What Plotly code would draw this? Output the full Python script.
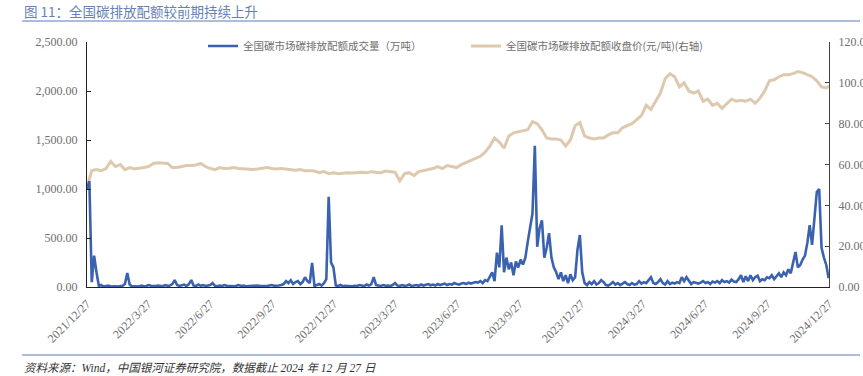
import pandas as pd
import plotly.graph_objects as go

# ---- data ----
price_dates = list(pd.date_range("2021-12-27", periods=157, freq="7D")) + [pd.Timestamp("2024-12-27")]
price_close = [
    49, 57, 57.5, 57, 58, 61.5, 59, 60, 57.5, 58.5,
    57.8, 58, 58.5, 59, 60.5, 60.8, 60.8, 60.5, 58.5, 58.5,
    59, 59.5, 59.5, 59.8, 60.5, 59, 58, 57.5, 58.5, 58,
    58.2, 58.5, 58, 57.8, 57.5, 57.5, 57.8, 58.2, 58.5, 58,
    57.8, 58, 57.7, 57.5, 57.2, 57.5, 57, 57, 56.8, 56,
    56.5, 55.5, 56, 55.5, 55.8, 56, 55.8, 56, 56.2, 56,
    56.5, 56.2, 56, 56.8, 56.5, 56.2, 52, 55.5, 56, 54.5,
    56.5, 57, 57.5, 58, 59, 58, 59.5, 59, 58.5, 60,
    61, 62, 63, 64, 66, 69, 73, 71, 68, 74,
    75.5, 76, 76.5, 77, 81, 80, 77, 73, 72.5, 72.5,
    72, 69, 72, 79, 80.5, 74, 73, 72.5, 73, 73,
    74.5, 75.5, 75.5, 78, 79, 80, 82, 84, 89, 87,
    91, 95, 102, 104.5, 103, 98, 100, 96, 95, 96,
    91, 92, 89, 90, 87.5, 90, 92, 91, 91.5, 91,
    92, 90, 92.5, 96, 101, 101.5, 103, 104, 104, 104.5,
    105.5, 105, 104, 103, 101, 98, 97.5, 98.5,
]

vol_dates = pd.date_range("2021-12-27", periods=314, freq="84h")
vol_values = [
    1000, 1080, 50, 320, 150, 10, 20, 5, 10, 15,
    5, 10, 8, 5, 10, 12, 30, 143, 25, 5,
    8, 10, 5, 15, 8, 10, 20, 12, 8, 10,
    15, 10, 8, 20, 12, 15, 30, 70, 20, 10,
    15, 25, 10, 30, 70, 15, 10, 25, 12, 20,
    10, 15, 20, 40, 12, 8, 15, 10, 20, 12,
    10, 15, 8, 12, 20, 10, 15, 8, 10, 12,
    8, 12, 15, 10, 8, 12, 10, 15, 20, 12,
    10, 15, 20, 30, 60, 40, 70, 30, 50, 60,
    30, 50, 100, 60, 40, 245, 10, 20, 30, 15,
    40, 80, 920, 250, 200, 15, 10, 20, 8, 12,
    10, 15, 8, 12, 10, 20, 15, 10, 25, 15,
    30, 100, 20, 15, 10, 20, 12, 15, 10, 20,
    40, 15, 10, 20, 12, 15, 25, 10, 15, 20,
    12, 25, 15, 20, 30, 18, 25, 15, 30, 20,
    25, 35, 20, 30, 25, 40, 30, 25, 35, 40,
    30, 45, 35, 40, 50, 45, 60, 40, 70, 60,
    100, 150, 60, 350, 200, 630, 150, 300, 180, 250,
    120, 260, 200, 280, 230, 300, 460, 600, 750, 1440,
    410, 600, 680, 300, 400, 550, 300, 200, 150, 80,
    150, 60, 120, 40, 130, 70, 100, 380, 530, 150,
    40, 20, 50, 30, 60, 25, 40, 70, 50, 20,
    15, 30, 50, 25, 40, 20, 35, 50, 30, 20,
    40, 25, 30, 60, 35, 50, 40, 70, 100, 40,
    30, 50, 80, 40, 25, 60, 30, 45, 35, 50,
    40, 100, 60, 100, 70, 30, 50, 40, 35, 45,
    60, 40, 50, 30, 55, 45, 60, 40, 70, 50,
    60, 45, 75, 55, 50, 80, 120, 50, 110, 60,
    120, 70, 100, 115, 60, 80, 70, 100, 90, 120,
    80, 110, 140, 100, 150, 120, 180, 140, 250, 357,
    200, 225, 280, 320, 450, 630, 430, 700, 970, 1000,
    400, 300, 225, 90,
]

tick_dates = ["2021-12-27", "2022-03-27", "2022-06-27", "2022-09-27", "2022-12-27",
              "2023-03-27", "2023-06-27", "2023-09-27", "2023-12-27", "2024-03-27",
              "2024-06-27", "2024-09-27", "2024-12-27"]
tick_labels = ["2021/12/27", "2022/3/27", "2022/6/27", "2022/9/27", "2022/12/27",
               "2023/3/27", "2023/6/27", "2023/9/27", "2023/12/27", "2024/3/27",
               "2024/6/27", "2024/9/27", "2024/12/27"]

name_vol = "全国碳市场碳排放配额成交量（万吨）"
name_price = "全国碳市场碳排放配额收盘价(元/吨)(右轴)"
title_text = "图 11：全国碳排放配额较前期持续上升"
source_text = "资料来源：Wind，中国银河证券研究院，数据截止 2024 年 12 月 27 日"

BLUE = "#3A62B0"
TAN = "#DDC9AE"
GRAY = "#6E6E6E"
SERIF = "Liberation Serif, Noto Sans CJK SC, serif"
CJK = "Noto Sans CJK SC, sans-serif"

fig = go.Figure()
fig.add_trace(go.Scatter(x=vol_dates, y=vol_values, name=name_vol, mode="lines",
                         line=dict(color=BLUE, width=2.6), yaxis="y2", legend="legend"))
fig.add_trace(go.Scatter(x=price_dates, y=price_close, name=name_price, mode="lines",
                         line=dict(color=TAN, width=3), yaxis="y", legend="legend2"))

L, R, T, B = 87, 34, 42, 89
W, H = 863, 376
pw, ph = W - L - R, H - T - B


def px(x):
    return (x - L) / pw


def py(y):
    return (H - B - y) / ph


fig.update_layout(
    width=W, height=H,
    margin=dict(l=L, r=R, t=T, b=B, autoexpand=False),
    paper_bgcolor="white", plot_bgcolor="white",
    showlegend=True,
    xaxis=dict(type="date", range=["2021-12-27", "2024-12-27"], automargin=False,
               tickvals=tick_dates, ticktext=tick_labels, tickangle=-45,
               tickfont=dict(family=SERIF, size=12, color=GRAY),
               showgrid=False, zeroline=False, showline=True, linecolor="#222", linewidth=1.3,
               ticks="", ticklabelstandoff=4),
    yaxis=dict(side="right", range=[0, 120], dtick=20, tickformat=".2f", automargin=False,
               tickfont=dict(family=SERIF, size=12, color=GRAY),
               showgrid=False, zeroline=False, showline=True, linecolor="#444", linewidth=1.3,
               ticks="inside", ticklen=4, tickcolor="#444", ticklabelstandoff=6),
    yaxis2=dict(side="left", overlaying="y", range=[0, 2500], dtick=500, tickformat=",.2f",
                automargin=False,
                tickfont=dict(family=SERIF, size=12, color=GRAY),
                showgrid=False, zeroline=False, showline=True, linecolor="#222", linewidth=1.3,
                ticks="inside", ticklen=4, tickcolor="#222", ticklabelstandoff=6),
    legend=dict(x=px(203), y=py(46), xanchor="left", yanchor="middle", orientation="h",
                font=dict(family=CJK, size=10.5, color=GRAY), bgcolor="rgba(0,0,0,0)"),
    legend2=dict(x=px(466), y=py(46), xanchor="left", yanchor="middle", orientation="h",
                 font=dict(family=CJK, size=10.5, color=GRAY), bgcolor="rgba(0,0,0,0)"),
    shapes=[
        dict(type="line", xref="paper", yref="paper", x0=px(22), x1=px(860), y0=py(21), y1=py(21),
             line=dict(color="#8FA6D0", width=1.5)),
        dict(type="line", xref="paper", yref="paper", x0=px(22), x1=px(860), y0=py(355), y1=py(355),
             line=dict(color="#8FA6D0", width=1.5)),
    ],
    annotations=[
        dict(text=title_text, xref="paper", yref="paper", x=px(22), y=py(11),
             xanchor="left", yanchor="middle", showarrow=False,
             font=dict(family=CJK, size=13.5, color="#6581B8")),
        dict(text="<i>" + source_text + "</i>", xref="paper", yref="paper", x=px(22), y=py(368),
             xanchor="left", yanchor="middle", showarrow=False,
             font=dict(family=SERIF, size=11.5, color="#333333")),
    ],
)

fig.write_html("out.html", config={"displayModeBar": False},
               post_script="document.body.style.margin='0';document.body.style.overflow='hidden';")
